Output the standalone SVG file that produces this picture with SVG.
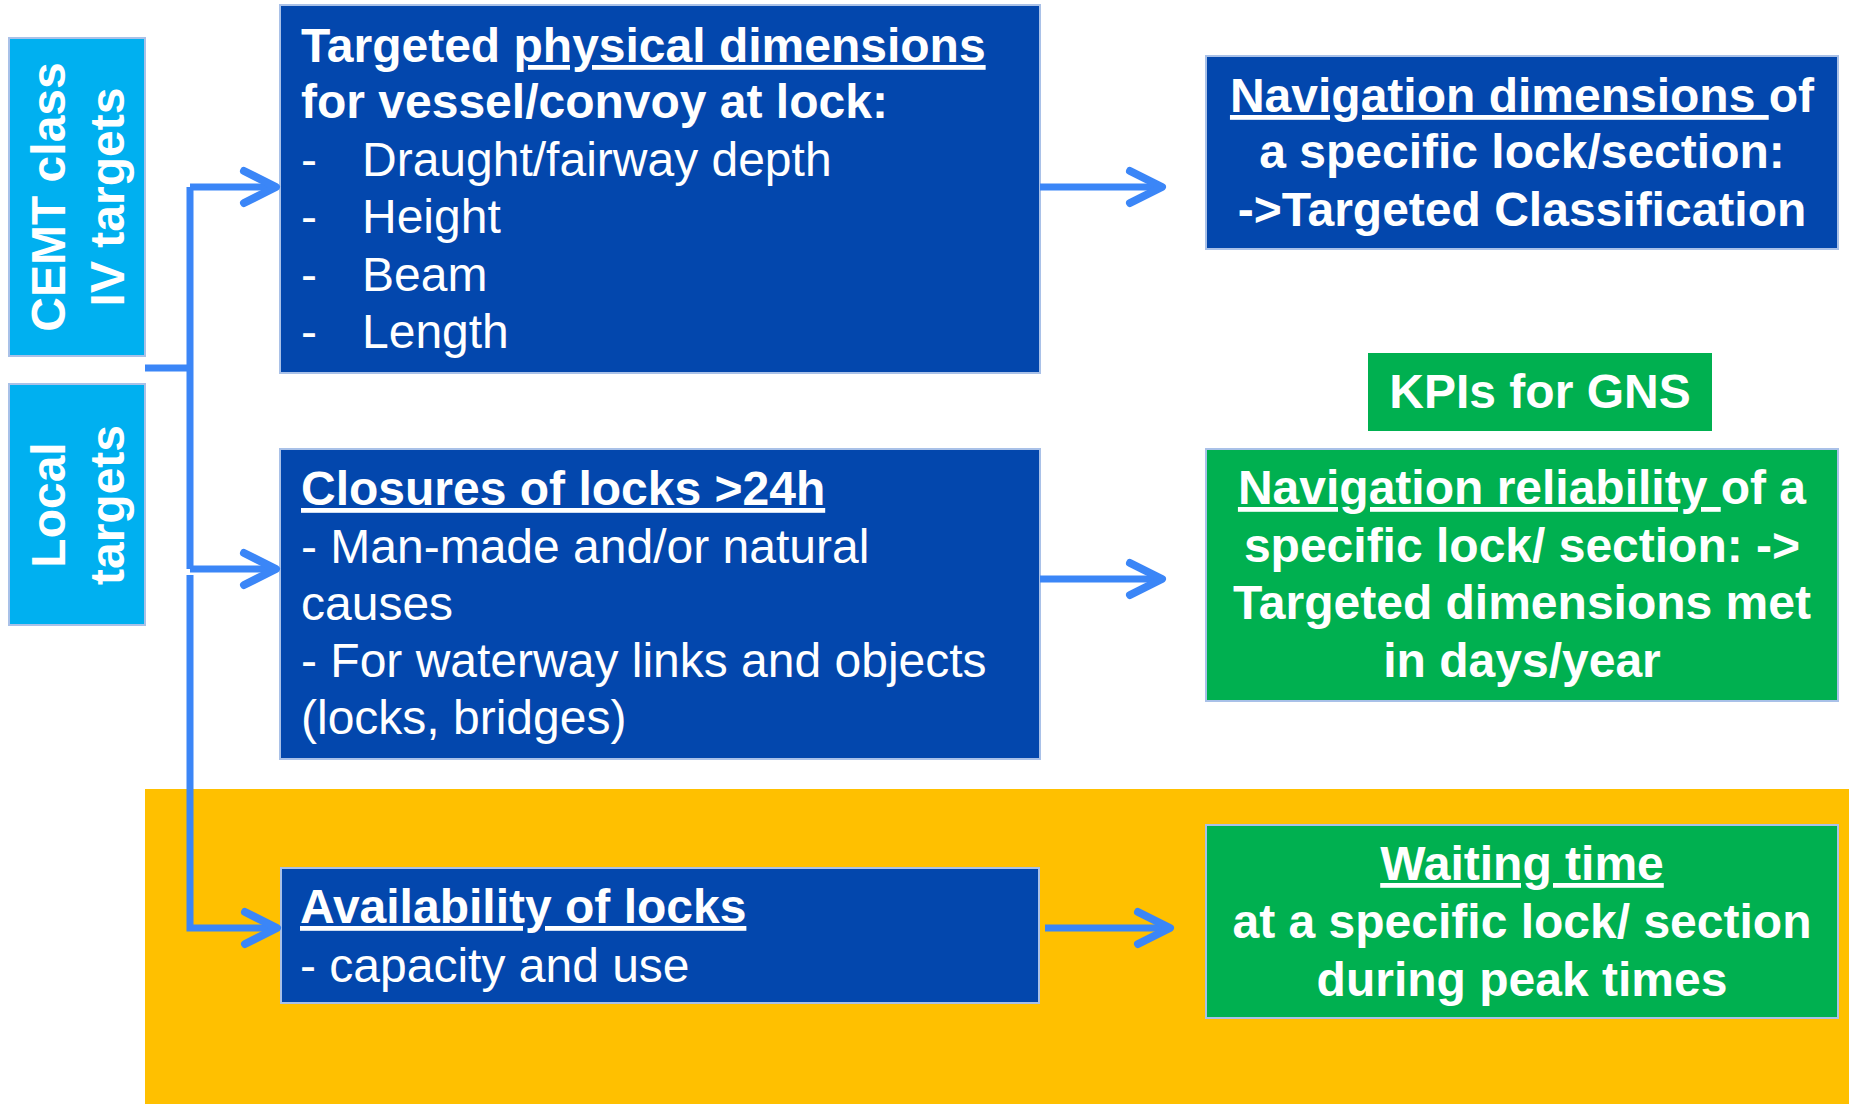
<svg xmlns="http://www.w3.org/2000/svg" width="1849" height="1104" viewBox="0 0 1849 1104">
<style>
text{font-family:"Liberation Sans",Arial,sans-serif;font-size:48px;fill:#fff}
.b{font-weight:bold}
.u{text-decoration:underline}
.c{text-anchor:middle}
.blue{fill:#0347ad;stroke:#a9c1e8;stroke-width:2}
.cyan{fill:#00b0f0;stroke:#a9c1e8;stroke-width:2}
.green{fill:#00b050;stroke:#a9c1e8;stroke-width:2}
.conn{fill:none;stroke:#3b86f7;stroke-width:7}
.head{fill:none;stroke:#3b86f7;stroke-width:8;stroke-linecap:round;stroke-linejoin:round}
</style>
<rect x="0" y="0" width="1849" height="1104" fill="#fff"/>
<rect id="highlight" x="145" y="789" width="1704" height="315" fill="#ffc000"/>

<g id="cemt">
<rect class="cyan" x="9" y="38" width="136" height="318"/>
<text class="b c" transform="translate(65,197) rotate(-90)">CEMT class</text>
<text class="b c" transform="translate(124,197) rotate(-90)">IV targets</text>
</g>
<g id="local">
<rect class="cyan" x="9" y="384" width="136" height="241"/>
<text class="b c" transform="translate(65,505) rotate(-90)">Local</text>
<text class="b c" transform="translate(124,505) rotate(-90)">targets</text>
</g>

<g id="physical">
<rect class="blue" x="280" y="5" width="760" height="368"/>
<text class="b" x="301" y="62">Targeted <tspan class="u">physical dimensions</tspan></text>
<text class="b" x="301" y="118">for vessel/convoy at lock:</text>
<text x="301" y="176">-</text><text x="362" y="176">Draught/fairway depth</text>
<text x="301" y="233">-</text><text x="362" y="233">Height</text>
<text x="301" y="291">-</text><text x="362" y="291">Beam</text>
<text x="301" y="348">-</text><text x="362" y="348">Length</text>
</g>

<g id="closures">
<rect class="blue" x="280" y="449" width="760" height="310"/>
<text class="b u" x="301" y="505">Closures of locks &gt;24h</text>
<text x="301" y="563">- Man-made and/or natural</text>
<text x="301" y="620">causes</text>
<text x="301" y="677">- For waterway links and objects</text>
<text x="301" y="734">(locks, bridges)</text>
</g>

<g id="availability">
<rect class="blue" x="281" y="868" width="758" height="135"/>
<text class="b u" x="300" y="923">Availability of locks</text>
<text x="300" y="982">- capacity and use</text>
</g>

<g id="navdims">
<rect class="blue" x="1206" y="56" width="632" height="193"/>
<text class="b c" x="1522" y="112"><tspan class="u">Navigation dimensions </tspan>of</text>
<text class="b c" x="1522" y="168">a specific lock/section:</text>
<text class="b c" x="1522" y="226">-&gt;Targeted Classification</text>
</g>

<g id="kpis">
<rect x="1368" y="353" width="344" height="78" fill="#00b050"/>
<text class="b c" x="1540" y="408">KPIs for GNS</text>
</g>

<g id="reliability">
<rect class="green" x="1206" y="449" width="632" height="252"/>
<text class="b c" x="1522" y="504"><tspan class="u">Navigation reliability </tspan>of a</text>
<text class="b c" x="1522" y="562">specific lock/ section: -&gt;</text>
<text class="b c" x="1522" y="619">Targeted dimensions met</text>
<text class="b c" x="1522" y="677">in days/year</text>
</g>

<g id="waiting">
<rect class="green" x="1206" y="825" width="632" height="193"/>
<text class="b c u" x="1522" y="880">Waiting time</text>
<text class="b c" x="1522" y="938">at a specific lock/ section</text>
<text class="b c" x="1522" y="996">during peak times</text>
</g>

<g id="connectors">
<path class="conn" d="M145,368 H190 M190,187 V569 M190,187 H274 M190,569 H274"/>
<path class="conn" d="M190,575 V928 H275"/>
<path class="head" d="M244,171 L276,187 L244,203"/>
<path class="head" d="M244,553 L276,569 L244,585"/>
<path class="head" d="M245,912 L277,928 L245,944"/>
<path class="conn" d="M1040,187 H1158"/>
<path class="head" d="M1130,171 L1162,187 L1130,203"/>
<path class="conn" d="M1040,579 H1158"/>
<path class="head" d="M1130,563 L1162,579 L1130,595"/>
<path class="conn" d="M1045,928 H1166"/>
<path class="head" d="M1138,912 L1170,928 L1138,944"/>
</g>
</svg>
